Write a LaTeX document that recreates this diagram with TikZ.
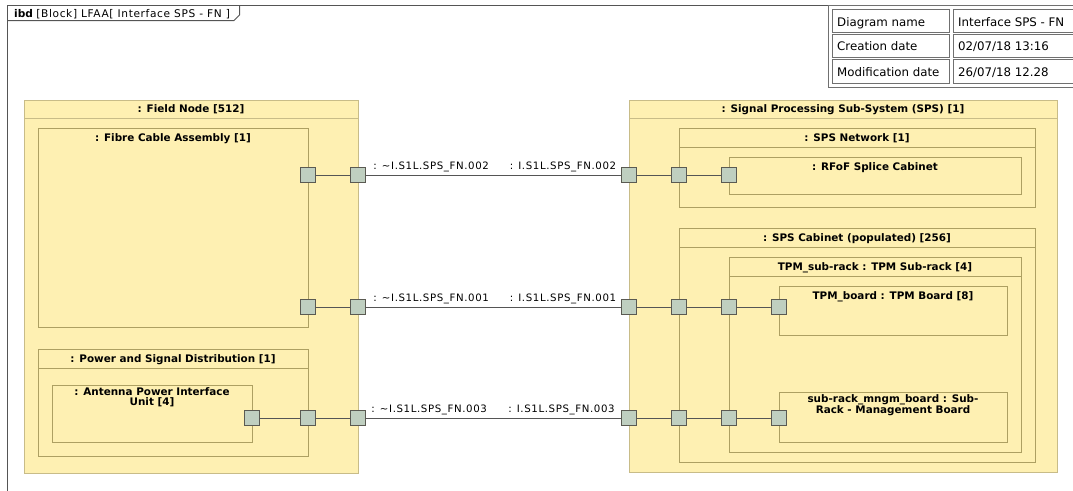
\documentclass[tikz,border=0pt]{standalone}
\usepackage{fontspec}
\setmainfont{DejaVu Sans}
\newfontfamily\lblfont[LetterSpace=6]{DejaVu Sans}
\definecolor{blkfill}{HTML}{FEF0B2}
\definecolor{blkout}{HTML}{C8BC88}
\definecolor{blkin}{HTML}{ADA062}
\definecolor{portfill}{HTML}{BFCFC0}
\definecolor{portdraw}{HTML}{5A5A52}
\definecolor{framec}{HTML}{555555}
\definecolor{tabc}{HTML}{707070}
\begin{document}
\begin{tikzpicture}[x=1pt,y=-1pt,
  outerblk/.style={draw=blkout, fill=blkfill, line width=1pt, inner sep=0pt, anchor=north west},
  innerblk/.style={draw=blkin, fill=blkfill, line width=0.9pt, inner sep=0pt, anchor=north west},
  hline/.style={draw=blkin, line width=0.9pt},
  ttl/.style={font=\fontsize{10.4}{12}\selectfont\bfseries, inner sep=0pt, anchor=base, align=center},
  port/.style={draw=portdraw, fill=portfill, line width=0.9pt, minimum size=15pt, inner sep=0pt},
  conn/.style={draw=framec, line width=0.9pt},
  lbl/.style={font=\lblfont\fontsize{10.2}{12}\selectfont, inner sep=0pt},
  cell/.style={draw=tabc, line width=0.8pt},
  celltxt/.style={font=\fontsize{11.8}{14}\selectfont, inner sep=0pt, anchor=base west}
]
\useasboundingbox (0,0) rectangle (1073,490);
% frame
\draw[framec, line width=1pt] (1080,5) -- (7,5) -- (7,495);
\draw[framec, line width=1pt] (7,20.5) -- (234,20.5) -- (239.5,15) -- (239.5,5);
\node[inner sep=0pt, anchor=base west, font=\fontsize{10.6}{12}\selectfont] (ttlframe) at (14,17) {\textbf{ibd} {\lblfont [Block] LFAA[ Interface SPS - FN ]}};
% table
\draw[tabc, line width=0.8pt] (828,5) rectangle (1085,87);
\draw[cell] (832.5,9.5) rectangle (949.5,32);
\draw[cell] (953.5,9.5) rectangle (1085,32);
\draw[cell] (832.5,34) rectangle (949.5,57);
\draw[cell] (953.5,34) rectangle (1085,57);
\draw[cell] (832.5,59) rectangle (949.5,83);
\draw[cell] (953.5,59) rectangle (1085,83);
\node[celltxt] (t11) at (837,26) {Diagram name};
\node[celltxt] (t12) at (958,26) {Interface SPS - FN};
\node[celltxt] (t21) at (837,50.5) {Creation date};
\node[celltxt] (t22) at (958,50.5) {02/07/18 13:16};
\node[celltxt] (t31) at (837,76) {Modification date};
\node[celltxt] (t32) at (958,76) {26/07/18 12.28};

% ---- Field Node
\node[outerblk, minimum width=334pt, minimum height=373pt] (fn) at (24,100) {};
\draw[hline, draw=blkout] (24,118) -- (358,118);
\node[ttl] (fnt) at (191,112.5) {: Field Node [512]};
\node[innerblk, minimum width=270pt, minimum height=199pt] (fca) at (38,128) {};
\node[ttl] (fcat) at (173,141) {: Fibre Cable Assembly [1]};
\node[innerblk, minimum width=270pt, minimum height=107pt] (psd) at (38,349) {};
\draw[hline] (38,368) -- (308,368);
\node[ttl] (psdt) at (173,362) {: Power and Signal Distribution [1]};
\node[innerblk, minimum width=200pt, minimum height=57pt] (apiu) at (52,385) {};
\node[ttl, anchor=north] (apiut) at (152,387) {: Antenna Power Interface\\[-1.5pt]Unit [4]};

% ---- SPS
\node[outerblk, minimum width=428pt, minimum height=372pt] (sps) at (629,100) {};
\draw[hline, draw=blkout] (629,118) -- (1057,118);
\node[ttl] (spst) at (843,112.5) {: Signal Processing Sub-System (SPS) [1]};
\node[innerblk, minimum width=356pt, minimum height=79pt] (net) at (679,128) {};
\draw[hline] (679,147) -- (1035,147);
\node[ttl] (nett) at (857,141) {: SPS Network [1]};
\node[innerblk, minimum width=292pt, minimum height=37pt] (rfof) at (729,157) {};
\node[ttl] (rfoft) at (875,170) {: RFoF Splice Cabinet};
\node[innerblk, minimum width=356pt, minimum height=234pt] (cab) at (679,228) {};
\draw[hline] (679,247) -- (1035,247);
\node[ttl] (cabt) at (857,241) {: SPS Cabinet (populated) [256]};
\node[innerblk, minimum width=292pt, minimum height=195pt] (sub) at (729,257) {};
\draw[hline] (729,276) -- (1021,276);
\node[ttl] (subt) at (875,270) {TPM\_sub-rack : TPM Sub-rack [4]};
\node[innerblk, minimum width=228pt, minimum height=49pt] (tpm) at (779,286) {};
\node[ttl] (tpmt) at (893,299) {TPM\_board : TPM Board [8]};
\node[innerblk, minimum width=228pt, minimum height=50pt] (mng) at (779,392) {};
\node[ttl, anchor=north] (mngt) at (893,394.5) {sub-rack\_mngm\_board : Sub-\\[-1.5pt]Rack - Management Board};

% ---- ports
\node[port] (a1) at (308,175) {};
\node[port] (a2) at (358,175) {};
\node[port] (b1) at (308,307) {};
\node[port] (b2) at (358,307) {};
\node[port] (c1) at (252,418) {};
\node[port] (c2) at (308,418) {};
\node[port] (c3) at (358,418) {};
\node[port] (d1) at (629,175) {};
\node[port] (d2) at (679,175) {};
\node[port] (d3) at (729,175) {};
\node[port] (e1) at (629,307) {};
\node[port] (e2) at (679,307) {};
\node[port] (e3) at (729,307) {};
\node[port] (e4) at (779,307) {};
\node[port] (f1) at (629,418) {};
\node[port] (f2) at (679,418) {};
\node[port] (f3) at (729,418) {};
\node[port] (f4) at (779,418) {};

% ---- connectors
\draw[conn] (a1) -- (a2);
\draw[conn] (a2) -- node[lbl, pos=0, anchor=base west, xshift=7pt, yshift=6pt] (l1a) {: \textasciitilde I.S1L.SPS\_FN.002}
                    node[lbl, pos=1, anchor=base east, xshift=-4.5pt, yshift=6pt] (l1b) {: I.S1L.SPS\_FN.002} (d1);
\draw[conn] (d1) -- (d2);
\draw[conn] (d2) -- (d3);
\draw[conn] (b1) -- (b2);
\draw[conn] (b2) -- node[lbl, pos=0, anchor=base west, xshift=7pt, yshift=6pt] (l2a) {: \textasciitilde I.S1L.SPS\_FN.001}
                    node[lbl, pos=1, anchor=base east, xshift=-4.5pt, yshift=6pt] (l2b) {: I.S1L.SPS\_FN.001} (e1);
\draw[conn] (e1) -- (e2);
\draw[conn] (e2) -- (e3);
\draw[conn] (e3) -- (e4);
\draw[conn] (c1) -- (c2);
\draw[conn] (c2) -- (c3);
\draw[conn] (c3) -- node[lbl, pos=0, anchor=base west, xshift=5pt, yshift=6pt] (l3a) {: \textasciitilde I.S1L.SPS\_FN.003}
                    node[lbl, pos=1, anchor=base east, xshift=-6pt, yshift=6pt] (l3b) {: I.S1L.SPS\_FN.003} (f1);
\draw[conn] (f1) -- (f2);
\draw[conn] (f2) -- (f3);
\draw[conn] (f3) -- (f4);
\end{tikzpicture}
\end{document}
